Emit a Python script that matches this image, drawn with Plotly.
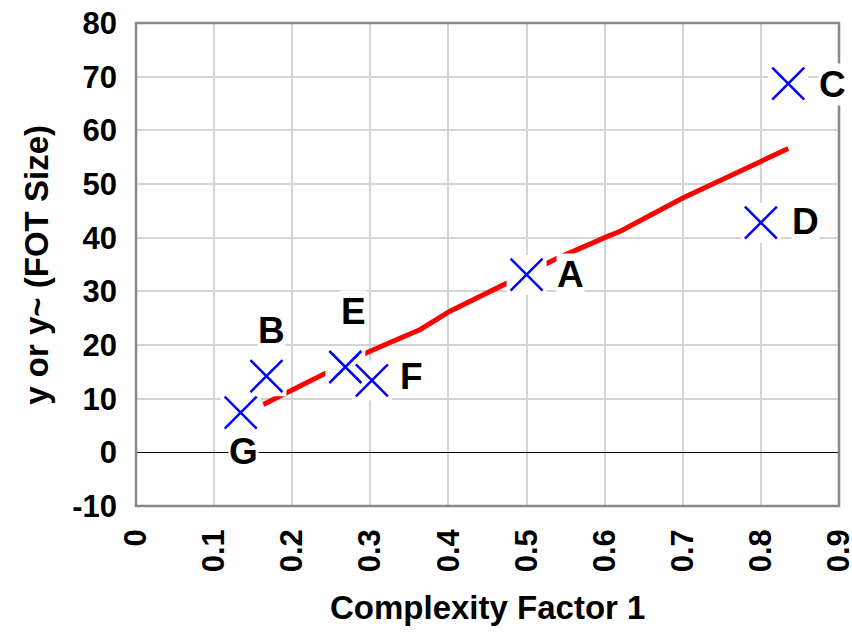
import plotly.graph_objects as go

# --- data ---
point_labels = ["A", "B", "C", "D", "E", "F", "G"]
point_x = [0.500, 0.167, 0.835, 0.800, 0.268, 0.302, 0.134]
point_y = [33.1, 14.2, 68.7, 42.8, 15.9, 13.4, 7.4]

fit_x = [0.163, 0.193, 0.219, 0.245, 0.296, 0.329, 0.364, 0.402, 0.476,
         0.540, 0.603, 0.620, 0.700, 0.777, 0.835]
fit_y = [8.9, 11.0, 13.0, 14.9, 18.6, 20.7, 22.9, 26.3, 31.7,
         36.2, 40.2, 41.2, 47.4, 52.7, 56.6]

x_ticks = [0, 0.1, 0.2, 0.3, 0.4, 0.5, 0.6, 0.7, 0.8, 0.9]
x_tick_text = ["0", "0.1", "0.2", "0.3", "0.4", "0.5", "0.6", "0.7", "0.8", "0.9"]
y_ticks = [-10, 0, 10, 20, 30, 40, 50, 60, 70, 80]
y_tick_text = ["-10", "0", "10", "20", "30", "40", "50", "60", "70", "80"]

# label offsets in pixels (xshift, yshift) relative to each point
label_shift = {"A": (44, 0), "B": (5, 46), "C": (44, -1), "D": (45, 1),
               "E": (8, 56), "F": (40, 4), "G": (3, -39)}

FONT = "Liberation Sans, Arial, sans-serif"

fig = go.Figure()

fig.add_trace(go.Scatter(
    x=fit_x, y=fit_y, mode="lines",
    line=dict(color="#ff0000", width=5),
    hoverinfo="skip", showlegend=False))

# white background boxes behind markers (hide line / gridlines like the original)
fig.add_trace(go.Scatter(
    x=point_x, y=point_y, mode="markers",
    marker=dict(symbol="square", size=40, color="white", line=dict(width=0)),
    hoverinfo="skip", showlegend=False))

fig.add_trace(go.Scatter(
    x=point_x, y=point_y, mode="markers",
    marker=dict(symbol="x-thin", size=32, color="#0000ff",
                line=dict(color="#0000ff", width=2.5)),
    showlegend=False))

for lab, px, py in zip(point_labels, point_x, point_y):
    xs, ys = label_shift[lab]
    fig.add_annotation(x=px, y=py, xref="x", yref="y", text="<b>%s</b>" % lab,
                       showarrow=False, xshift=xs, yshift=ys,
                       bgcolor="white", borderpad=0,
                       font=dict(family=FONT, size=37, color="black"))

fig.add_annotation(x=0.5, y=-0.211, xref="paper", yref="paper",
                   xanchor="center", yanchor="middle",
                   text="<b>Complexity Factor 1</b>", showarrow=False,
                   font=dict(family=FONT, size=33, color="black"))
fig.add_annotation(x=-0.142, y=0.5, xref="paper", yref="paper",
                   xanchor="center", yanchor="middle",
                   text="<b>y or y~ (FOT Size)</b>", showarrow=False, textangle=-90,
                   font=dict(family=FONT, size=33, color="black"))

# plot-area frame
fig.add_shape(type="rect", xref="paper", yref="paper", x0=0, x1=1, y0=0, y1=1,
              line=dict(color="#888888", width=2.5), layer="above")

fig.update_xaxes(range=[0, 0.9], tickmode="array", tickvals=x_ticks, ticktext=x_tick_text,
                 tickangle=-90, ticklabelstandoff=16, automargin=False,
                 ticklabeloverflow="allow",
                 tickfont=dict(family=FONT, size=31, color="black", weight="bold"),
                 showgrid=True, gridcolor="#d4d4d4", gridwidth=1.5,
                 showline=False, zeroline=False, ticks="")
fig.update_yaxes(range=[-10, 80], tickvals=y_ticks, ticktext=y_tick_text,
                 ticklabelstandoff=18, automargin=False,
                 ticklabeloverflow="allow",
                 tickfont=dict(family=FONT, size=31, color="black", weight="bold"),
                 showgrid=True, gridcolor="#d4d4d4", gridwidth=1.5,
                 showline=False,
                 zeroline=True, zerolinecolor="black", zerolinewidth=1, ticks="")

fig.update_layout(width=852, height=633,
                  margin=dict(l=136, r=13, t=23, b=127, autoexpand=False),
                  plot_bgcolor="white", paper_bgcolor="white",
                  font=dict(family=FONT))

fig.write_html("out.html", config={"displayModeBar": False},
               post_script="document.body.style.margin='0';document.body.style.overflow='hidden';")
